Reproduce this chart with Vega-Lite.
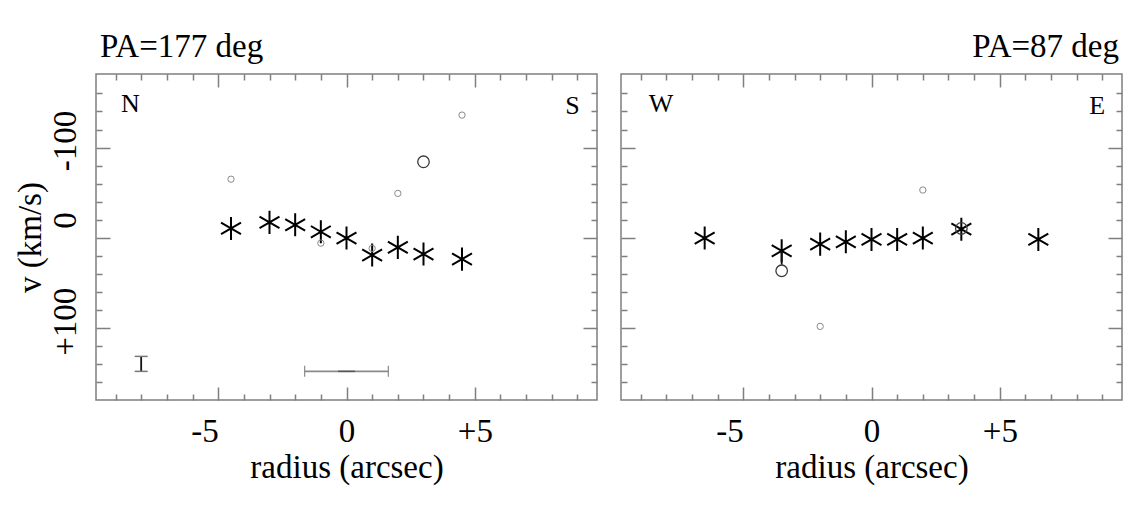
{
  "$schema": "https://vega.github.io/schema/vega-lite/v6.json",
  "background": "white",
  "padding": {"left": 13, "top": 30, "right": 2, "bottom": 2},
  "spacing": 20,
  "datasets": {
    "pts": [
      {"panel": "L", "kind": "star", "r": -4.5, "v": -10.5},
      {"panel": "L", "kind": "star", "r": -3, "v": -17.2},
      {"panel": "L", "kind": "star", "r": -2, "v": -14.5},
      {"panel": "L", "kind": "star", "r": -1, "v": -6.8},
      {"panel": "L", "kind": "star", "r": 0, "v": 0.2},
      {"panel": "L", "kind": "star", "r": 1, "v": 19},
      {"panel": "L", "kind": "star", "r": 2, "v": 10.5},
      {"panel": "L", "kind": "star", "r": 3, "v": 17.9},
      {"panel": "L", "kind": "star", "r": 4.5, "v": 23.5},
      {"panel": "L", "kind": "small", "r": -4.5, "v": -65},
      {"panel": "L", "kind": "small", "r": -1, "v": 5.8},
      {"panel": "L", "kind": "small", "r": 1, "v": 11.6},
      {"panel": "L", "kind": "small", "r": 2, "v": -49.3},
      {"panel": "L", "kind": "small", "r": 4.5, "v": -136},
      {"panel": "L", "kind": "big", "r": 3, "v": -84.3},
      {"panel": "R", "kind": "star", "r": -6.5, "v": 0.2},
      {"panel": "R", "kind": "star", "r": -3.5, "v": 14.3},
      {"panel": "R", "kind": "star", "r": -2, "v": 6.9},
      {"panel": "R", "kind": "star", "r": -1, "v": 4.3},
      {"panel": "R", "kind": "star", "r": 0, "v": 1.7},
      {"panel": "R", "kind": "star", "r": 1, "v": 1.7},
      {"panel": "R", "kind": "star", "r": 2, "v": 0.2},
      {"panel": "R", "kind": "star", "r": 3.5, "v": -9.7},
      {"panel": "R", "kind": "star", "r": 6.5, "v": 1.7},
      {"panel": "R", "kind": "small", "r": -2, "v": 98},
      {"panel": "R", "kind": "small", "r": 2, "v": -53},
      {"panel": "R", "kind": "big", "r": -3.5, "v": 36.4},
      {"panel": "R", "kind": "big", "r": 3.5, "v": -10.5}
    ],
    "labels": [
      {"panel": "L", "text": "N", "r": -8.42, "v": -148},
      {"panel": "L", "text": "S", "r": 8.8, "v": -146},
      {"panel": "R", "text": "W", "r": -8.2, "v": -148},
      {"panel": "R", "text": "E", "r": 8.79, "v": -146}
    ],
    "bars": [
      {"panel": "L", "kind": "vbar", "r": -8, "r2": -8, "v": 131.2, "v2": 147.8},
      {"panel": "L", "kind": "hbar", "r": -1.63, "r2": 1.63, "v": 147.8, "v2": 147.8},
      {"panel": "L", "kind": "hmid", "r": -0.33, "r2": 0.33, "v": 147.8, "v2": 147.8},
      {"panel": "R", "kind": "link", "r": -3.5, "r2": -3.5, "v": 14.3, "v2": 29.5}
    ],
    "caps": [
      {"panel": "L", "kind": "hcap", "r": -8, "v": 131.2},
      {"panel": "L", "kind": "hcap", "r": -8, "v": 147.8},
      {"panel": "L", "kind": "vcap", "r": -1.63, "v": 147.8},
      {"panel": "L", "kind": "vcap", "r": 1.63, "v": 147.8}
    ]
  },
  "hconcat": [
    {
      "width": 501,
      "height": 326,
      "title": {"text": "PA=177 deg", "anchor": "start", "frame": "group", "font": "Liberation Serif", "fontSize": 33, "fontWeight": "normal", "color": "black", "baseline": "alphabetic", "offset": -17, "dx": 4},
      "resolve": {"axis": {"x": "independent", "y": "independent"}},
      "layer": [
        {
          "data": {"name": "pts"},
          "transform": [{"filter": "datum.panel === 'L' && datum.kind === 'star'"}],
          "mark": {"type": "point", "shape": "M0,-1L0,1M-0.866,-0.5L0.866,0.5M-0.866,0.5L0.866,-0.5", "size": 530, "filled": false, "color": "black", "strokeWidth": 2, "opacity": 1},
          "encoding": {
            "x": {"field": "r", "type": "quantitative", "scale": {"domain": [-9.76, 9.76], "nice": false, "zero": false},
              "axis": {"orient": "bottom", "values": [-9,-8,-7,-6,-5,-4,-3,-2,-1,0,1,2,3,4,5,6,7,8,9], "domain": false, "grid": false,
                "tickSize": {"condition": {"test": "datum.value % 5 === 0", "value": -13}, "value": -6},
                "tickColor": "#7f7f7f", "tickWidth": 1.5,
                "labelExpr": "datum.value === -5 ? '-5' : datum.value === 0 ? '0' : datum.value === 5 ? '+5' : ''",
                "labelAlign": {"condition": {"test": "datum.value < 0", "value": "right"}, "value": "center"},
                "labelFont": "Liberation Serif", "labelFontSize": 33, "labelColor": "black", "labelPadding": 28, "labelOverlap": false, "labelFlush": false,
                "title": "radius (arcsec)", "titleFont": "Liberation Serif", "titleFontSize": 33, "titleFontWeight": "normal", "titleColor": "black", "titlePadding": -4}},
            "y": {"field": "v", "type": "quantitative", "scale": {"domain": [-181.5, 179.5], "nice": false, "zero": false, "reverse": true},
              "axis": {"orient": "left", "values": [-160,-140,-120,-100,-80,-60,-40,-20,0,20,40,60,80,100,120,140,160], "domain": false, "grid": false,
                "tickSize": {"condition": {"test": "datum.value % 100 === 0", "value": -14}, "value": -6},
                "tickColor": "#7f7f7f", "tickWidth": 1.5,
                "labelExpr": "datum.value === -100 ? '-100' : datum.value === 0 ? '0' : datum.value === 100 ? '+100' : ''",
                "labelAngle": -90, "labelAlign": "center", "labelBaseline": "alphabetic",
                "labelOffset": {"condition": {"test": "datum.value === 0", "value": -18}, "value": -7},
                "labelFont": "Liberation Serif", "labelFontSize": 33, "labelColor": "black", "labelPadding": 35, "labelOverlap": false, "labelFlush": false,
                "title": "v (km/s)", "titleFont": "Liberation Serif", "titleFontSize": 33, "titleFontWeight": "normal", "titleColor": "black", "titlePadding": -6}}
          }
        },
        {
          "data": {"name": "pts"},
          "transform": [{"filter": "datum.panel === 'L' && datum.kind === 'small'"}],
          "mark": {"type": "point", "shape": "circle", "size": 40, "filled": false, "color": "#8a8a8a", "strokeWidth": 1, "opacity": 1},
          "encoding": {
            "x": {"field": "r", "type": "quantitative", "scale": {"domain": [-9.76, 9.76], "nice": false, "zero": false},
              "axis": {"orient": "top", "values": [-9,-8,-7,-6,-5,-4,-3,-2,-1,0,1,2,3,4,5,6,7,8,9], "domain": false, "grid": false, "labels": false, "title": null,
                "tickSize": {"condition": {"test": "datum.value % 5 === 0", "value": -13}, "value": -6},
                "tickColor": "#7f7f7f", "tickWidth": 1.5}},
            "y": {"field": "v", "type": "quantitative", "scale": {"domain": [-181.5, 179.5], "nice": false, "zero": false, "reverse": true},
              "axis": {"orient": "right", "values": [-160,-140,-120,-100,-80,-60,-40,-20,0,20,40,60,80,100,120,140,160], "domain": false, "grid": false, "labels": false, "title": null,
                "tickSize": {"condition": {"test": "datum.value % 100 === 0", "value": -14}, "value": -6},
                "tickColor": "#7f7f7f", "tickWidth": 1.5}}
          }
        },
        {
          "data": {"name": "pts"},
          "transform": [{"filter": "datum.panel === 'L' && datum.kind === 'big'"}],
          "mark": {"type": "point", "shape": "circle", "size": 133, "filled": false, "color": "#3a3a3a", "strokeWidth": 1.3, "opacity": 1},
          "encoding": {
            "x": {"field": "r", "type": "quantitative", "scale": {"domain": [-9.76, 9.76], "nice": false, "zero": false}, "axis": null},
            "y": {"field": "v", "type": "quantitative", "scale": {"domain": [-181.5, 179.5], "nice": false, "zero": false, "reverse": true}, "axis": null}
          }
        },
        {
          "data": {"name": "bars"},
          "transform": [{"filter": "datum.panel === 'L'"}],
          "mark": {"type": "rule"},
          "encoding": {
            "x": {"field": "r", "type": "quantitative", "scale": {"domain": [-9.76, 9.76], "nice": false, "zero": false}, "axis": null},
            "x2": {"field": "r2"},
            "y": {"field": "v", "type": "quantitative", "scale": {"domain": [-181.5, 179.5], "nice": false, "zero": false, "reverse": true}, "axis": null},
            "y2": {"field": "v2"},
            "color": {"field": "kind", "type": "nominal", "scale": {"domain": ["vbar", "hbar", "hmid", "link"], "range": ["#111111", "#8a8a8a", "#555555", "#111111"]}, "legend": null},
            "strokeWidth": {"field": "kind", "type": "nominal", "scale": {"domain": ["vbar", "hbar", "hmid", "link"], "range": [1.8, 1.3, 2.2, 1.8]}, "legend": null}
          }
        },
        {
          "data": {"name": "caps"},
          "transform": [{"filter": "datum.panel === 'L' && datum.kind === 'hcap'"}],
          "mark": {"type": "tick", "orient": "horizontal", "size": 13, "thickness": 1.5, "color": "#777777", "opacity": 1},
          "encoding": {
            "x": {"field": "r", "type": "quantitative", "scale": {"domain": [-9.76, 9.76], "nice": false, "zero": false}, "axis": null},
            "y": {"field": "v", "type": "quantitative", "scale": {"domain": [-181.5, 179.5], "nice": false, "zero": false, "reverse": true}, "axis": null}
          }
        },
        {
          "data": {"name": "caps"},
          "transform": [{"filter": "datum.panel === 'L' && datum.kind === 'vcap'"}],
          "mark": {"type": "tick", "orient": "vertical", "size": 11, "thickness": 1.2, "color": "#8a8a8a", "opacity": 1},
          "encoding": {
            "x": {"field": "r", "type": "quantitative", "scale": {"domain": [-9.76, 9.76], "nice": false, "zero": false}, "axis": null},
            "y": {"field": "v", "type": "quantitative", "scale": {"domain": [-181.5, 179.5], "nice": false, "zero": false, "reverse": true}, "axis": null}
          }
        },
        {
          "data": {"name": "labels"},
          "transform": [{"filter": "datum.panel === 'L'"}],
          "mark": {"type": "text", "font": "Liberation Serif", "fontSize": 26, "align": "center", "baseline": "middle", "color": "black"},
          "encoding": {
            "x": {"field": "r", "type": "quantitative", "scale": {"domain": [-9.76, 9.76], "nice": false, "zero": false}, "axis": null},
            "y": {"field": "v", "type": "quantitative", "scale": {"domain": [-181.5, 179.5], "nice": false, "zero": false, "reverse": true}, "axis": null},
            "text": {"field": "text"}
          }
        }
      ]
    },
    {
      "width": 501,
      "height": 326,
      "title": {"text": "PA=87 deg", "anchor": "end", "frame": "group", "font": "Liberation Serif", "fontSize": 33, "fontWeight": "normal", "color": "black", "baseline": "alphabetic", "offset": -17, "dx": -3},
      "resolve": {"axis": {"x": "independent", "y": "independent"}},
      "layer": [
        {
          "data": {"name": "pts"},
          "transform": [{"filter": "datum.panel === 'R' && datum.kind === 'star'"}],
          "mark": {"type": "point", "shape": "M0,-1L0,1M-0.866,-0.5L0.866,0.5M-0.866,0.5L0.866,-0.5", "size": 530, "filled": false, "color": "black", "strokeWidth": 2, "opacity": 1},
          "encoding": {
            "x": {"field": "r", "type": "quantitative", "scale": {"domain": [-9.76, 9.76], "nice": false, "zero": false},
              "axis": {"orient": "bottom", "values": [-9,-8,-7,-6,-5,-4,-3,-2,-1,0,1,2,3,4,5,6,7,8,9], "domain": false, "grid": false,
                "tickSize": {"condition": {"test": "datum.value % 5 === 0", "value": -13}, "value": -6},
                "tickColor": "#7f7f7f", "tickWidth": 1.5,
                "labelExpr": "datum.value === -5 ? '-5' : datum.value === 0 ? '0' : datum.value === 5 ? '+5' : ''",
                "labelAlign": {"condition": {"test": "datum.value < 0", "value": "right"}, "value": "center"},
                "labelFont": "Liberation Serif", "labelFontSize": 33, "labelColor": "black", "labelPadding": 28, "labelOverlap": false, "labelFlush": false,
                "title": "radius (arcsec)", "titleFont": "Liberation Serif", "titleFontSize": 33, "titleFontWeight": "normal", "titleColor": "black", "titlePadding": -4}},
            "y": {"field": "v", "type": "quantitative", "scale": {"domain": [-181.5, 179.5], "nice": false, "zero": false, "reverse": true},
              "axis": {"orient": "left", "values": [-160,-140,-120,-100,-80,-60,-40,-20,0,20,40,60,80,100,120,140,160], "domain": false, "grid": false, "labels": false, "title": null,
                "tickSize": {"condition": {"test": "datum.value % 100 === 0", "value": -14}, "value": -6},
                "tickColor": "#7f7f7f", "tickWidth": 1.5}}
          }
        },
        {
          "data": {"name": "pts"},
          "transform": [{"filter": "datum.panel === 'R' && datum.kind === 'small'"}],
          "mark": {"type": "point", "shape": "circle", "size": 40, "filled": false, "color": "#8a8a8a", "strokeWidth": 1, "opacity": 1},
          "encoding": {
            "x": {"field": "r", "type": "quantitative", "scale": {"domain": [-9.76, 9.76], "nice": false, "zero": false},
              "axis": {"orient": "top", "values": [-9,-8,-7,-6,-5,-4,-3,-2,-1,0,1,2,3,4,5,6,7,8,9], "domain": false, "grid": false, "labels": false, "title": null,
                "tickSize": {"condition": {"test": "datum.value % 5 === 0", "value": -13}, "value": -6},
                "tickColor": "#7f7f7f", "tickWidth": 1.5}},
            "y": {"field": "v", "type": "quantitative", "scale": {"domain": [-181.5, 179.5], "nice": false, "zero": false, "reverse": true},
              "axis": {"orient": "right", "values": [-160,-140,-120,-100,-80,-60,-40,-20,0,20,40,60,80,100,120,140,160], "domain": false, "grid": false, "labels": false, "title": null,
                "tickSize": {"condition": {"test": "datum.value % 100 === 0", "value": -14}, "value": -6},
                "tickColor": "#7f7f7f", "tickWidth": 1.5}}
          }
        },
        {
          "data": {"name": "pts"},
          "transform": [{"filter": "datum.panel === 'R' && datum.kind === 'big'"}],
          "mark": {"type": "point", "shape": "circle", "size": 133, "filled": false, "color": "#3a3a3a", "strokeWidth": 1.3, "opacity": 1},
          "encoding": {
            "x": {"field": "r", "type": "quantitative", "scale": {"domain": [-9.76, 9.76], "nice": false, "zero": false}, "axis": null},
            "y": {"field": "v", "type": "quantitative", "scale": {"domain": [-181.5, 179.5], "nice": false, "zero": false, "reverse": true}, "axis": null}
          }
        },
        {
          "data": {"name": "bars"},
          "transform": [{"filter": "datum.panel === 'R'"}],
          "mark": {"type": "rule", "color": "#111111", "strokeWidth": 1.8},
          "encoding": {
            "x": {"field": "r", "type": "quantitative", "scale": {"domain": [-9.76, 9.76], "nice": false, "zero": false}, "axis": null},
            "x2": {"field": "r2"},
            "y": {"field": "v", "type": "quantitative", "scale": {"domain": [-181.5, 179.5], "nice": false, "zero": false, "reverse": true}, "axis": null},
            "y2": {"field": "v2"}
          }
        },
        {
          "data": {"name": "labels"},
          "transform": [{"filter": "datum.panel === 'R'"}],
          "mark": {"type": "text", "font": "Liberation Serif", "fontSize": 26, "align": "center", "baseline": "middle", "color": "black"},
          "encoding": {
            "x": {"field": "r", "type": "quantitative", "scale": {"domain": [-9.76, 9.76], "nice": false, "zero": false}, "axis": null},
            "y": {"field": "v", "type": "quantitative", "scale": {"domain": [-181.5, 179.5], "nice": false, "zero": false, "reverse": true}, "axis": null},
            "text": {"field": "text"}
          }
        }
      ]
    }
  ],
  "config": {
    "view": {"stroke": "#7f7f7f", "strokeWidth": 1.5},
    "axis": {"grid": false}
  }
}
